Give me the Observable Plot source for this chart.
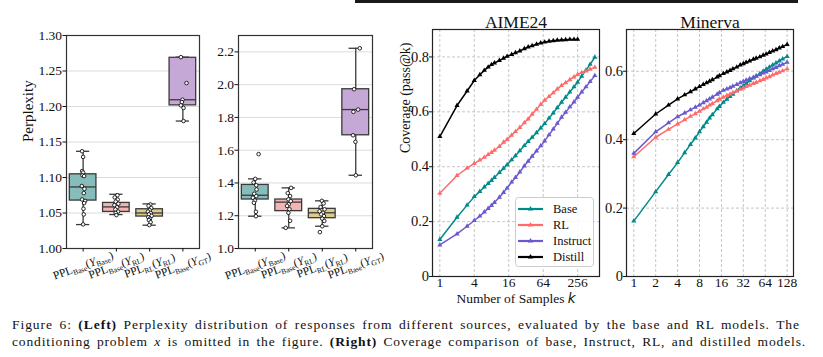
<!DOCTYPE html>
<html><head><meta charset="utf-8">
<script src="https://cdn.jsdelivr.net/npm/d3@7"></script>
<script src="https://cdn.jsdelivr.net/npm/@observablehq/plot@0.6"></script>
<style>
body{margin:0;background:#fff;}
#fig{position:relative;width:823px;height:357px;overflow:hidden;background:#fff;font-family:"Liberation Serif","Tinos","Times New Roman","Nimbus Roman","DejaVu Serif",serif;color:#111;}
.abs{position:absolute;}
.cap{position:absolute;font-size:13.5px;line-height:17px;text-align:justify;text-align-last:justify;color:#111;}
</style></head><body>
<div id="fig">
 <div class="abs" style="left:355px;top:0;width:443px;height:2.5px;background:#1a1a1a"></div>
 <div class="abs" id="p1" style="left:0;top:0"></div>
 <div class="abs" id="p2" style="left:200px;top:0"></div>
 <div class="abs" id="p3" style="left:380px;top:0"></div>
 <div class="abs" id="p4" style="left:600px;top:0"></div>
 <div class="abs" id="legend" style="left:515px;top:197px"></div>
 <div class="cap" style="left:12px;top:316px;width:788px">Figure 6: <b>(Left)</b> Perplexity distribution of responses from different sources, evaluated by the base and RL models. The</div>
 <div class="cap" style="left:12px;top:333px;width:794px">conditioning problem <i>x</i> is omitted in the figure. <b>(Right)</b> Coverage comparison of base, Instruct, RL, and distilled models.</div>
</div>
<script>
// ---------- categories ----------
const catMain = ["PPL", "PPL", "PPL", "PPL"];
const catSub1 = ["Base", "Base", "RL", "Base"];
const catSub2 = ["Base", "RL", "RL", "GT"];
const boxColors = ["#86bcb9", "#f3b4b4", "#dccb8f", "#c6a8d6"];

// ---------- left panel 1 (perplexity under base model) ----------
const p1Q1  = [1.0675, 1.0515, 1.045, 1.2016];
const p1Med = [1.0867, 1.0586, 1.050, 1.2095];
const p1Q3  = [1.1045, 1.0642, 1.0553, 1.2686];
const p1Lo  = [1.0337, 1.0478, 1.0328, 1.1795];
const p1Hi  = [1.1369, 1.0764, 1.0628, 1.2695];
const p1Pts = [
  [1.137,1.129,1.109,1.107,1.103,1.102,1.088,1.084,1.078,1.069,1.067,1.064,1.056,1.048,1.034],
  [1.075,1.072,1.069,1.066,1.063,1.061,1.058,1.055,1.052,1.050,1.047],
  [1.062,1.060,1.057,1.054,1.052,1.050,1.048,1.046,1.044,1.042,1.040,1.037,1.033],
  [1.2695,1.233,1.2095,1.2062,1.2016,1.198,1.1795]
];
const p1Jit = [
  [-0.03,0.0,-0.03,0.0,-0.02,0.03,-0.04,0.04,0.02,-0.03,0.06,0.03,0.01,0.02,0.0],
  [0.03,-0.05,0.04,-0.02,0.06,-0.06,0.02,-0.03,0.05,-0.02,0.0],
  [0.02,-0.03,0.05,0.0,-0.05,0.03,-0.02,0.06,-0.04,0.01,-0.02,0.03,-0.01],
  [-0.06,0.11,-0.01,-0.03,-0.06,0.02,0.02]
];
const p1Ticks = [1.00,1.05,1.10,1.15,1.20,1.25,1.30];

// ---------- left panel 2 (perplexity under RL model) ----------
const p2Q1  = [1.299, 1.228, 1.185, 1.691];
const p2Med = [1.325, 1.283, 1.218, 1.848];
const p2Q3  = [1.388, 1.299, 1.242, 1.972];
const p2Lo  = [1.197, 1.126, 1.136, 1.447];
const p2Hi  = [1.425, 1.370, 1.291, 2.222];
const p2Pts = [
  [1.576,1.425,1.403,1.386,1.36,1.334,1.32,1.31,1.293,1.279,1.224,1.197],
  [1.37,1.338,1.32,1.30,1.289,1.27,1.26,1.24,1.218,1.169,1.126],
  [1.291,1.275,1.253,1.239,1.227,1.218,1.208,1.198,1.182,1.168,1.136,1.10],
  [2.222,1.972,1.848,1.834,1.691,1.651,1.447]
];
const p2Jit = [
  [0.10,0.0,-0.05,0.03,0.04,-0.03,0.03,-0.07,-0.01,-0.04,0.02,0.02],
  [0.07,-0.03,0.04,-0.01,0.06,0.0,-0.05,0.02,-0.01,0.04,-0.09],
  [-0.01,0.04,-0.05,0.07,-0.08,0.02,-0.03,0.05,0.0,0.06,0.0,-0.07],
  [0.12,-0.05,0.07,-0.07,-0.08,-0.01,0.0]
];
const p2Ticks = [1.0,1.2,1.4,1.6,1.8,2.0,2.2];

// ---------- right: coverage ----------
const seriesNames = ["Base", "RL", "Instruct", "Distill"];
const seriesColors = ["#008b8b", "#ff6b6b", "#6a5acd", "#000000"];

const aimeK = [1,2,3,4,5,6,7,8,9,11,13,15,18,21,25,30,35,41,49,58,68,81,96,113,134,158,187,221,256,302,358,423,512];
const aimeBase = [.135,.216,.260,.291,.310,.326,.339,.350,.361,.379,.394,.407,.425,.440,.458,.477,.492,.507,.524,.541,.557,.577,.596,.615,.635,.653,.672,.691,.708,.730,.752,.773,.799];
const aimeRL = [.303,.368,.395,.412,.424,.434,.444,.452,.460,.474,.489,.499,.515,.528,.543,.560,.574,.591,.609,.627,.642,.656,.669,.683,.696,.706,.717,.727,.736,.743,.749,.755,.762];
const aimeInstruct = [.115,.155,.183,.204,.220,.235,.248,.259,.270,.289,.306,.322,.344,.361,.381,.403,.420,.438,.457,.476,.494,.516,.537,.558,.580,.598,.618,.636,.653,.672,.691,.710,.732];
const aimeDistillK = [1,2,3,4,5,6,7,8,9,11,13,15,18,21,25,30,35,41,49,58,68,81,96,113,134,158,187,221,256];
const aimeDistill = [.51,.623,.676,.714,.735,.751,.763,.772,.778,.787,.795,.802,.809,.815,.822,.830,.836,.841,.846,.851,.854,.857,.859,.861,.862,.863,.864,.864,.864];
const aimeXTicks = [1,4,16,64,256];
const aimeYTicks = [0,0.2,0.4,0.6,0.8];

const minK = [1,2,3,4,5,6,7,8,9,10,11,12,14,15,17,19,21,23,26,29,32,35,39,44,48,54,60,66,73,81,90,100,111,128];
const minBase = [.162,.248,.298,.333,.362,.386,.405,.423,.438,.451,.463,.473,.490,.497,.509,.518,.526,.533,.543,.551,.558,.564,.572,.580,.585,.593,.600,.606,.612,.618,.624,.630,.636,.643];
const minRL = [.350,.407,.430,.446,.458,.468,.476,.483,.490,.495,.501,.505,.514,.518,.524,.529,.533,.537,.542,.547,.551,.555,.559,.564,.567,.572,.576,.580,.584,.589,.593,.597,.601,.607];
const minInstruct = [.360,.423,.449,.467,.478,.487,.495,.501,.508,.514,.519,.524,.533,.537,.544,.548,.552,.556,.561,.566,.570,.574,.578,.582,.586,.590,.595,.598,.602,.607,.611,.616,.620,.626];
const minDistill = [.418,.475,.501,.519,.531,.540,.548,.555,.561,.566,.571,.575,.583,.587,.593,.598,.602,.607,.612,.618,.622,.626,.630,.635,.638,.642,.647,.650,.655,.659,.663,.668,.672,.678];
const minXTicks = [1,2,4,8,16,32,64,128];
const minYTicks = [0,0.2,0.4,0.6];

// ---------- drawing ----------
const serif = '"Liberation Serif", "Tinos", "Times New Roman", "Nimbus Roman", "DejaVu Serif", serif';
const sty = {fontFamily: serif, fontSize: "13px", overflow: "visible", background: "transparent", color: "#111"};
const edge = "#3a3a3a";

function subscriptify(svg) {
  svg.querySelectorAll('g[aria-label="x-axis tick label"] text').forEach(t => {
    const m = /^L(\d)$/.exec(t.textContent.trim());
    if (!m) return;
    const i = +m[1];
    t.innerHTML = `${catMain[i]}<tspan font-size="7.5" dy="2.5">${catSub1[i]}</tspan><tspan dy="-2.5">(</tspan><tspan font-style="italic">Y</tspan><tspan font-size="7.5" dy="2.5">${catSub2[i]}</tspan><tspan dy="-2.5">)</tspan>`;
  });
}

function boxPanel(id, o) {
  const boxes = [0,1,2,3].map(i => ({i, q1: o.q1[i], med: o.med[i], q3: o.q3[i], lo: o.lo[i], hi: o.hi[i], c: boxColors[i]}));
  const pts = o.pts.flatMap((arr, i) => arr.map((v, j) => ({i, v, x: i + o.jit[i][j]})));
  const marks = [
    Plot.gridY(o.ticks, {stroke: "#d2d2d2", strokeOpacity: 1, strokeWidth: 0.8}),
    Plot.ruleX(boxes, {x: "i", y1: "lo", y2: "q1", stroke: edge, strokeWidth: 1.3}),
    Plot.ruleX(boxes, {x: "i", y1: "q3", y2: "hi", stroke: edge, strokeWidth: 1.3}),
    Plot.ruleY(boxes, {y: "lo", x1: d => d.i - 0.2, x2: d => d.i + 0.2, stroke: edge, strokeWidth: 1.3}),
    Plot.ruleY(boxes, {y: "hi", x1: d => d.i - 0.2, x2: d => d.i + 0.2, stroke: edge, strokeWidth: 1.3}),
    Plot.rect(boxes, {x1: d => d.i - 0.4, x2: d => d.i + 0.4, y1: "q1", y2: "q3", fill: "c", stroke: edge, strokeWidth: 1.3}),
    Plot.ruleY(boxes, {y: "med", x1: d => d.i - 0.4, x2: d => d.i + 0.4, stroke: edge, strokeWidth: 1.3}),
    Plot.dot(pts, {x: "x", y: "v", r: 1.8, fill: "white", stroke: "#111", strokeWidth: 0.9}),
    Plot.frame({stroke: "#333", strokeWidth: 1.2}),
    Plot.axisY({ticks: o.ticks, tickFormat: o.fmt, tickSize: 3.5, tickPadding: 1, fontSize: 13.5, label: null}),
    Plot.axisX({ticks: [0,1,2,3], tickFormat: i => "L" + i, tickRotate: -20, textAnchor: "middle", lineAnchor: "middle", tickSize: 3.5, tickPadding: 13.5, fontSize: 11.5, label: null})
  ];
  if (o.ylabel) marks.push(Plot.text([o.ylabel], {text: d => d, frameAnchor: "left", dx: -38, rotate: -90, fontSize: 15}));
  const svg = Plot.plot({
    width: o.width, height: 300,
    marginLeft: o.ml, marginRight: o.mr, marginTop: 35, marginBottom: 52,
    x: {domain: [-0.5, 3.5]},
    y: {domain: o.domain},
    color: {type: "identity"},
    style: sty,
    marks
  });
  subscriptify(svg);
  document.getElementById(id).appendChild(svg);
}

boxPanel("p1", {width: 210, ml: 66, mr: 11, domain: [1.0, 1.3], ticks: p1Ticks, fmt: d => d.toFixed(2),
  q1: p1Q1, med: p1Med, q3: p1Q3, lo: p1Lo, hi: p1Hi, pts: p1Pts, jit: p1Jit, ylabel: "Perplexity"});
boxPanel("p2", {width: 180, ml: 38, mr: 8, domain: [1.0, 2.3], ticks: p2Ticks, fmt: d => d.toFixed(1),
  q1: p2Q1, med: p2Med, q3: p2Q3, lo: p2Lo, hi: p2Hi, pts: p2Pts, jit: p2Jit});

function linePanel(id, o) {
  const data = o.series.flatMap(s => s.k.map((k, j) => ({k, v: s.v[j], s: s.name})));
  const grid = {stroke: "#b8b8b8", strokeOpacity: 1, strokeDasharray: "3,2", strokeWidth: 0.8};
  const marks = [
    Plot.gridX(o.xticks, grid),
    Plot.gridY(o.yticks, grid),
    Plot.line(data, {x: "k", y: "v", z: "s", stroke: "s", strokeWidth: 1.5}),
    Plot.dot(data, {x: "k", y: "v", fill: "s", symbol: "triangle", r: 1.9}),
    Plot.frame({stroke: "#222", strokeWidth: 1.2}),
    Plot.axisX({ticks: o.xticks, tickFormat: d => String(d), tickSize: 1, tickPadding: 0, fontSize: 13.5, label: null}),
    Plot.axisY({ticks: o.yticks, tickFormat: d => d === 0 ? "0" : d.toFixed(1), tickSize: 3, tickPadding: 0.5, fontSize: 14.5, label: null}),
    Plot.text([o.title], {text: d => d, frameAnchor: "top", lineAnchor: "bottom", dy: -2, fontSize: 17.5})
  ];
  if (o.ylabel) marks.push(Plot.text([o.ylabel], {text: d => d, frameAnchor: "left", dx: -27, rotate: -90, fontSize: 14}));
  if (o.xlabel) marks.push(Plot.text([o.xlabel], {text: d => d, frameAnchor: "bottom", dy: 26, fontSize: 13.5}));
  const svg = Plot.plot({
    width: o.width, height: 310,
    marginLeft: o.ml, marginRight: o.mr, marginTop: 29, marginBottom: 34,
    x: {type: "log", base: 2, domain: o.xdomain},
    y: {domain: o.ydomain},
    color: {domain: seriesNames, range: seriesColors},
    style: sty,
    marks
  });
  svg.querySelectorAll("text").forEach(t => {
    if (t.textContent === "Number of Samples k") {
      t.innerHTML = 'Number of Samples <tspan font-style="italic" font-family="DejaVu Sans">k</tspan>';
    }
  });
  document.getElementById(id).appendChild(svg);
}

linePanel("p3", {width: 225, ml: 52, mr: 6, title: "AIME24", xdomain: [0.745, 617], ydomain: [0, 0.9],
  xticks: aimeXTicks, yticks: aimeYTicks, ylabel: "Coverage (pass@k)", xlabel: "Number of Samples k",
  series: [
    {name: "Base", k: aimeK, v: aimeBase},
    {name: "RL", k: aimeK, v: aimeRL},
    {name: "Instruct", k: aimeK, v: aimeInstruct},
    {name: "Distill", k: aimeDistillK, v: aimeDistill}
  ]});
linePanel("p4", {width: 200, ml: 26, mr: 7, title: "Minerva", xdomain: [0.794, 156.5], ydomain: [0, 0.722],
  xticks: minXTicks, yticks: minYTicks,
  series: [
    {name: "Base", k: minK, v: minBase},
    {name: "RL", k: minK, v: minRL},
    {name: "Instruct", k: minK, v: minInstruct},
    {name: "Distill", k: minK, v: minDistill}
  ]});

// ---------- legend ----------
(function () {
  const W = 79, H = 70;
  const svg = d3.create("svg").attr("width", W).attr("height", H).style("overflow", "visible");
  svg.append("rect").attr("x", 0.5).attr("y", 0.5).attr("width", W - 1).attr("height", H - 1)
    .attr("rx", 3).attr("fill", "white").attr("fill-opacity", 0.85).attr("stroke", "#cccccc");
  const tri = d3.symbol(d3.symbolTriangle, 12)();
  seriesNames.forEach((n, i) => {
    const y = 12 + 16 * i;
    svg.append("line").attr("x1", 3).attr("x2", 28).attr("y1", y).attr("y2", y)
      .attr("stroke", seriesColors[i]).attr("stroke-width", 2.2);
    svg.append("path").attr("d", tri).attr("transform", `translate(15.5,${y})`).attr("fill", seriesColors[i]);
    svg.append("text").attr("x", 38).attr("y", y).attr("dy", "0.35em").attr("font-size", 12.5)
      .attr("font-family", serif).attr("fill", "#111").text(n);
  });
  document.getElementById("legend").appendChild(svg.node());
})();

// ---------- caption fitting: widen letters so justified spaces look natural ----------
document.querySelectorAll(".cap").forEach(div => {
  const target = div.clientWidth;
  const probe = div.cloneNode(true);
  probe.style.width = "auto";
  probe.style.whiteSpace = "nowrap";
  probe.style.visibility = "hidden";
  div.parentNode.appendChild(probe);
  const natural = probe.getBoundingClientRect().width;
  const chars = div.textContent.length;
  probe.remove();
  const extra = (target - natural) * 0.75 / chars;
  if (extra > 0) div.style.letterSpacing = extra.toFixed(3) + "px";
});
</script>
</body></html>
